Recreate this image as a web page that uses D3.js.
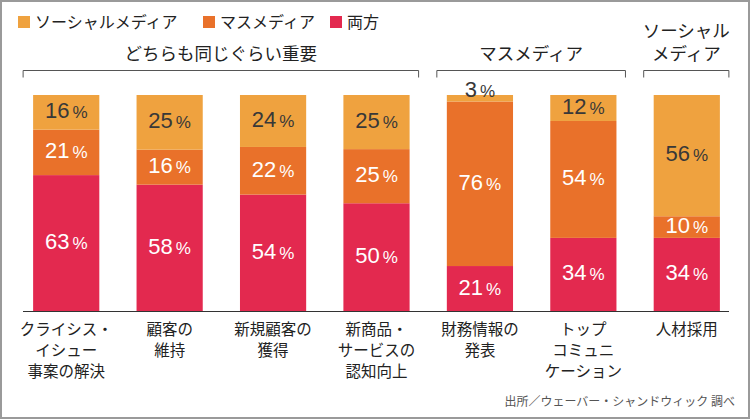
<!DOCTYPE html>
<html>
<head>
<meta charset="utf-8">
<script src="https://cdn.jsdelivr.net/npm/d3@7"></script>
<style>
  body { margin: 0; background: #fff; }
  svg { display: block; }
</style>
</head>
<body>
<div id="wrapper"></div>
<script>
const categories = [
  ["クライシス・", "イシュー", "事案の解決"],
  ["顧客の", "維持"],
  ["新規顧客の", "獲得"],
  ["新商品・", "サービスの", "認知向上"],
  ["財務情報の", "発表"],
  ["トップ", "コミュニ", "ケーション"],
  ["人材採用"],
];
const social = [16, 25, 24, 25, 3, 12, 56];
const mass = [21, 16, 22, 25, 76, 54, 10];
const both = [63, 58, 54, 50, 21, 34, 34];
const seriesNames = ["ソーシャルメディア", "マスメディア", "両方"];
const groups = [
  { lines: ["どちらも同じぐらい重要"], from: 0, to: 3 },
  { lines: ["マスメディア"], from: 4, to: 5 },
  { lines: ["ソーシャル", "メディア"], from: 6, to: 6 },
];
const source = "出所／ウェーバー・シャンドウィック 調べ";

const colors = {
  both: "#e3294f",
  mass: "#e9712a",
  social: "#efa23f",
};

const jp = "'Noto Sans CJK JP', 'Noto Sans', sans-serif";
const num = "'Liberation Sans', Arial, sans-serif";

const width = 750;
const height = 419;

const dataset = categories.map((c, i) => ({
  key: i,
  both: both[i],
  mass: mass[i],
  social: social[i],
}));

const svg = d3
  .select("#wrapper")
  .append("svg")
  .attr("width", width)
  .attr("height", height);

// frame
svg
  .append("rect")
  .attr("x", 1)
  .attr("y", 1)
  .attr("width", width - 2)
  .attr("height", height - 2)
  .attr("fill", "#fff")
  .attr("stroke", "#9a9a9a")
  .attr("stroke-width", 2);

const xScale = d3
  .scaleBand()
  .domain(d3.range(categories.length))
  .range([14.5, 738.5])
  .paddingInner(0.36)
  .paddingOuter(0.18);

const yScale = d3.scaleLinear().domain([0, 1]).range([311.5, 95]);

const keys = ["both", "mass", "social"];
const stacked = d3
  .stack()
  .keys(keys)
  .offset(d3.stackOffsetExpand)(dataset);

// bars
const layers = svg
  .selectAll(".layer")
  .data(stacked)
  .join("g")
  .attr("class", "layer")
  .attr("fill", (d) => colors[d.key]);

layers
  .selectAll("rect")
  .data((d) => d)
  .join("rect")
  .attr("x", (d, i) => xScale(i))
  .attr("y", (d) => yScale(d[1]))
  .attr("width", xScale.bandwidth())
  .attr("height", (d) => yScale(d[0]) - yScale(d[1]));

// value labels
stacked.forEach((layer) => {
  layer.forEach((d, i) => {
    const v = d.data[layer.key];
    const small = v < 5;
    const cy = small ? yScale(d[1]) - 4 : (yScale(d[0]) + yScale(d[1])) / 2;
    const t = svg
      .append("text")
      .attr("x", xScale(i) + xScale.bandwidth() / 2)
      .attr("y", cy)
      .attr("dy", "0.36em")
      .attr("text-anchor", "middle")
      .attr("fill", layer.key === "social" ? "#383838" : "#fff")
      .style("font-family", num);
    t.append("tspan").style("font-size", "22px").text(v);
    t.append("tspan")
      .attr("dx", 3)
      .style("font-size", "17px")
      .text("%");
  });
});

// baseline
svg
  .append("line")
  .attr("x1", 23)
  .attr("x2", 729)
  .attr("y1", 311.5)
  .attr("y2", 311.5)
  .attr("stroke", "#333")
  .attr("stroke-width", 1);

// category labels
categories.forEach((lines, i) => {
  const t = svg
    .append("text")
    .attr("text-anchor", "middle")
    .attr("fill", "#222")
    .style("font-family", jp)
    .style("font-size", "15.5px");
  lines.forEach((l, j) => {
    t.append("tspan")
      .attr("x", xScale(i) + xScale.bandwidth() / 2)
      .attr("y", 335 + j * 21)
      .text(l);
  });
});

// group brackets
groups.forEach((g) => {
  const x0 = xScale(g.from) - 10;
  const x1 = xScale(g.to) + xScale.bandwidth() + 9;
  svg
    .append("path")
    .attr("d", `M${x0},77.5V70.5H${x1}V77.5`)
    .attr("fill", "none")
    .attr("stroke", "#555")
    .attr("stroke-width", 1);
  const t = svg
    .append("text")
    .attr("text-anchor", "middle")
    .attr("fill", "#222")
    .style("font-family", jp)
    .style("font-size", "17.5px");
  const n = g.lines.length;
  g.lines.forEach((l, j) => {
    t.append("tspan")
      .attr("x", (x0 + x1) / 2)
      .attr("y", 60 - (n - 1 - j) * 23)
      .text(l);
  });
});

// legend
const legendX = [18, 203, 330];
const legendKeys = ["social", "mass", "both"];
legendKeys.forEach((k, i) => {
  svg
    .append("rect")
    .attr("x", legendX[i])
    .attr("y", 16)
    .attr("width", 12)
    .attr("height", 12)
    .attr("fill", colors[k]);
  svg
    .append("text")
    .attr("x", legendX[i] + 17)
    .attr("y", 28)
    .attr("fill", "#222")
    .style("font-family", jp)
    .style("font-size", "16px")
    .text(seriesNames[i]);
});

// source
svg
  .append("text")
  .attr("x", 735)
  .attr("y", 406)
  .attr("text-anchor", "end")
  .attr("fill", "#555")
  .style("font-family", jp)
  .style("font-size", "12px")
  .text(source);
</script>
</body>
</html>
